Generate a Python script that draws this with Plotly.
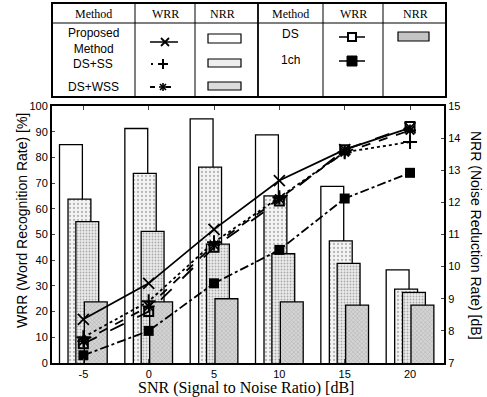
import plotly.graph_objects as go

# ---- data ----
snr = [-5, 0, 5, 10, 15, 20]
snr_ticks = [-5, 0, 5, 10, 15, 20]

wrr_proposed = [17, 31, 52, 71, 83, 91.5]
wrr_ds_ss = [10, 24, 47, 64.5, 82, 86]
wrr_ds_wss = [8.5, 22, 46, 64, 82, 90.5]
wrr_ds = [7.5, 20, 45, 63, 83, 92]
wrr_1ch = [3, 12.5, 31, 44, 64, 74]

nrr_proposed = [13.8, 14.3, 14.6, 14.1, 12.5, 9.9]
nrr_ds_ss = [12.1, 12.9, 13.1, 12.2, 10.8, 9.3]
nrr_ds_wss = [11.4, 11.1, 10.7, 10.4, 10.1, 9.2]
nrr_ds = [8.9, 8.9, 9.0, 8.9, 8.8, 8.8]

W, H = 487, 397
L, R, T, B = 52, 444, 106, 363

fig = go.Figure()

bar_w = 1.75
bar_specs = [
    (nrr_proposed, -0.95, dict(color="white")),
    (nrr_ds_ss, -0.3, dict(color="white", pattern=dict(shape=".", fgcolor="#777", bgcolor="#f4f4f4", size=4, solidity=0.25))),
    (nrr_ds_wss, 0.3, dict(color="white", pattern=dict(shape=".", fgcolor="#666", bgcolor="#ececec", size=3, solidity=0.3))),
    (nrr_ds, 0.95, dict(color="white", pattern=dict(shape="x", fgcolor="#888", bgcolor="#d4d4d4", size=3, solidity=0.3))),
]
for vals, off, mk in bar_specs:
    mk = dict(mk)
    mk["line"] = dict(color="black", width=1.3)
    fig.add_trace(go.Bar(x=snr, y=vals, width=bar_w, offset=off - bar_w / 2,
                         marker=mk, yaxis="y", showlegend=False))

line_specs = [
    (wrr_ds_ss, "dot", dict(symbol="cross-thin", size=10, line=dict(width=2, color="black"))),
    (wrr_ds_wss, "dash", dict(symbol="asterisk", size=10, line=dict(width=1.8, color="black"))),
    (wrr_ds, "longdash", dict(symbol="square-open", size=9, color="black", line=dict(width=2, color="black"))),
    (wrr_1ch, "dashdot", dict(symbol="square", size=10, color="black")),
    (wrr_proposed, "solid", dict(symbol="x-thin", size=11, line=dict(width=1.8, color="black"))),
]
for vals, dash, mk in line_specs:
    fig.add_trace(go.Scatter(x=snr, y=vals, mode="lines+markers", yaxis="y2",
                             line=dict(color="black", width=1.8, dash=dash),
                             marker=mk, showlegend=False))

tickfont = dict(family="Liberation Sans, Arial, sans-serif", size=11, color="black")

fig.update_layout(
    width=W, height=H,
    margin=dict(l=L, r=W - R, t=T, b=H - B),
    paper_bgcolor="white", plot_bgcolor="white",
    barmode="overlay",
    xaxis=dict(range=[-7.4, 22.6], tickvals=snr_ticks, ticktext=[str(v) for v in snr_ticks],
               ticks="inside", ticklen=4, automargin=False,
               showline=True, linecolor="black", linewidth=2, mirror="ticks",
               showgrid=False, zeroline=False, tickfont=tickfont),
    yaxis=dict(range=[7, 15], dtick=1, side="right", ticks="inside", ticklen=3, automargin=False,
               showline=True, linecolor="black", linewidth=2, showgrid=False,
               zeroline=False, tickfont=tickfont),
    yaxis2=dict(range=[0, 100], dtick=10, side="left", overlaying="y", ticks="inside",
                ticklen=3, showline=True, linecolor="black", linewidth=2, showgrid=False,
                zeroline=False, tickfont=tickfont, automargin=False),
)

# ---- legend table and titles (pixel -> paper helpers) ----
def px(x):
    return (x - L) / (R - L)

def py(y):
    return (B - y) / (B - T)

shapes = []

def line(x0, y0, x1, y1, w=1.2, dash="solid"):
    shapes.append(dict(type="line", xref="paper", yref="paper", x0=px(x0), y0=py(y0),
                       x1=px(x1), y1=py(y1), line=dict(color="black", width=w, dash=dash)))

def rect(x0, y0, x1, y1, fill="white", w=1.2):
    shapes.append(dict(type="rect", xref="paper", yref="paper", x0=px(x0), y0=py(y0),
                       x1=px(x1), y1=py(y1), fillcolor=fill, line=dict(color="black", width=w)))

def text(t, x, y, serif=False, size=12, angle=0):
    fam = "Liberation Serif, Times New Roman, serif" if serif else "Liberation Sans, Arial, sans-serif"
    fig.add_annotation(text=t, xref="paper", yref="paper", x=px(x), y=py(y), showarrow=False,
                       xanchor="center", yanchor="middle", textangle=angle,
                       font=dict(family=fam, size=size, color="black"))

# axis titles
text("SNR (Signal to Noise Ratio) [dB]", 246, 388, serif=True, size=16)
text("WRR (Word Recognition Rate) [%]", 22, 221, size=14, angle=-90)
text("NRR (Noise Reduction Rate) [dB]", 476, 235, size=14, angle=90)

rect(52, 3, 446, 97, fill="rgba(0,0,0,0)", w=2)
line(258, 3, 258, 97, w=1.8)
for xv in [135, 195, 323, 383]:
    line(xv, 3, xv, 97, w=1)
line(52, 23, 446, 23, w=1.2)

for cx, t in [(93, "Method"), (165, "WRR"), (222, "NRR"), (290, "Method"), (353, "WRR"), (415, "NRR")]:
    text(t, cx, 14, serif=True, size=12)

text("Proposed<br>Method", 93, 41)
text("DS+SS", 93, 64)
text("DS+WSS", 93, 87)
text("DS", 290, 34)
text("1ch", 290, 60)

# WRR samples
# proposed: solid line with x
line(150, 42, 178, 42, w=1.5)
line(161, 38, 169, 46, w=1.8)
line(161, 46, 169, 38, w=1.8)
# DS+SS: dot and plus
line(151, 64, 153, 64, w=2)
line(158, 64, 168, 64, w=2)
line(163, 59, 163, 69, w=2)
# DS+WSS: dash, asterisk
line(150, 87, 155, 87, w=2)
line(166, 87, 171, 87, w=2)
line(159, 87, 167, 87, w=1.6)
line(163, 83, 163, 91, w=1.6)
line(160, 84, 166, 90, w=1.6)
line(160, 90, 166, 84, w=1.6)
# DS: line with open square
line(339, 37, 365, 37, w=1.5)
rect(348, 33, 356, 41, fill="white", w=2)
# 1ch: line with filled square
line(339, 61, 365, 61, w=1.5)
rect(347, 56, 357, 66, fill="black", w=1)

# NRR samples
rect(208, 34, 241, 43, fill="white")
rect(208, 59, 241, 67, fill="#eeeeee")
rect(208, 82, 241, 90, fill="#dcdcdc")
rect(398, 32, 429, 41, fill="#c4c4c4")

fig.update_layout(shapes=shapes)

fig.write_html("out.html", config={"displayModeBar": False},
               post_script="document.body.style.margin='0';")
